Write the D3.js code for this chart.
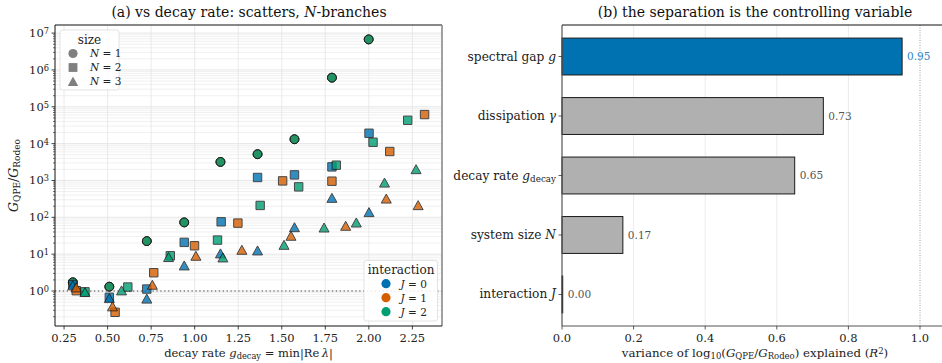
<!DOCTYPE html>
<html>
<head>
<meta charset="utf-8">
<script src="https://cdn.jsdelivr.net/npm/d3@7"></script>
<style>
  html, body { margin: 0; padding: 0; background: #fff; }
  svg text { font-family: "DejaVu Serif", "Liberation Serif", serif; }
</style>
</head>
<body>
<svg id="fig" width="942" height="363"></svg>
<script>
// ---------- panel (a): G_QPE / G_Rodeo against decay rate ----------
const jLevels = [0, 1, 2];
const jColors = ["#0072B2", "#D55E00", "#009E73"];

// N = 1 (no interaction, identical for every J)
const n1Decay = [0.30, 0.51, 0.725, 0.94, 1.148, 1.361, 1.573, 1.788, 1.999];
const n1Ratio = [1.72, 1.31, 22.6, 72.8, 3190, 5160, 13150, 618000, 6.75e6];

// N = 2, per J
const n2DecayJ0 = [0.30, 0.51, 0.725, 0.94, 1.152, 1.361, 1.573, 1.788, 2.001];
const n2RatioJ0 = [1.50, 0.675, 1.13, 20.9, 75.5, 1206, 1418, 2340, 19130];
const n2DecayJ1 = [0.32, 0.543, 0.765, 0.999, 1.248, 1.505, 1.788, 2.12, 2.32];
const n2RatioJ1 = [1.02, 0.264, 3.13, 16.9, 69.6, 975, 957, 6110, 61500];
const n2DecayJ2 = [0.37, 0.616, 0.86, 1.131, 1.376, 1.597, 1.813, 2.024, 2.223];
const n2RatioJ2 = [0.95, 1.28, 9.05, 24.1, 210, 671, 2600, 10900, 43000];

// N = 3, per J
const n3DecayJ0 = [0.30, 0.51, 0.725, 0.94, 1.148, 1.361, 1.573, 1.788, 2.001];
const n3RatioJ0 = [1.40, 0.63, 0.61, 4.85, 10.3, 12.4, 53, 331, 136];
const n3DecayJ1 = [0.32, 0.528, 0.757, 1.007, 1.271, 1.553, 1.867, 2.10, 2.283];
const n3RatioJ1 = [1.23, 0.376, 1.45, 8.88, 12.9, 31, 57.8, 317, 210];
const n3DecayJ2 = [0.37, 0.58, 0.85, 1.162, 1.513, 1.743, 1.928, 2.09, 2.271];
const n3RatioJ2 = [0.92, 1.02, 8.2, 8.0, 17.6, 51.9, 71, 861, 1990];

const xTicksA = [0.25, 0.50, 0.75, 1.00, 1.25, 1.50, 1.75, 2.00, 2.25];
const yTicksA = [1, 10, 100, 1e3, 1e4, 1e5, 1e6, 1e7];

// ---------- panel (b): variance explained ----------
const factorLabels = [
  [{t: "spectral gap "}, {t: "g", i: true}],
  [{t: "dissipation "}, {t: "γ", i: true}],
  [{t: "decay rate "}, {t: "g", i: true}, {t: "decay", sub: true}],
  [{t: "system size "}, {t: "N", i: true}],
  [{t: "interaction "}, {t: "J", i: true}]
];
const r2Values = [0.95, 0.73, 0.65, 0.17, 0.002];
const xTicksB = [0.0, 0.2, 0.4, 0.6, 0.8, 1.0];

// ---------- helpers ----------
const svg = d3.select("#fig");

function rich(sel, parts, size) {
  parts.forEach(p => {
    const ts = sel.append("tspan").text(p.t);
    if (p.i) ts.attr("font-style", "italic");
    if (p.sub) ts.attr("baseline-shift", "-22%").attr("font-size", size * 0.72);
    if (p.sup) ts.attr("baseline-shift", "40%").attr("font-size", size * 0.72);
  });
  return sel;
}

function markerPath(shape) {
  if (shape === "circle") return "M4.4,0A4.4,4.4 0 1,1 -4.4,0A4.4,4.4 0 1,1 4.4,0Z";
  if (shape === "square") return "M-4.2,-4.2H4.2V4.2H-4.2Z";
  return "M0,-4.8L5,4.2L-5,4.2Z";
}

// ================= panel (a) =================
const A = {l: 55, r: 442, t: 25, b: 326};
const xA = d3.scaleLinear().domain([0.198, 2.42]).range([A.l, A.r]);
const yA = d3.scaleLog().domain([Math.pow(10, -0.95), Math.pow(10, 7.22)]).range([A.b, A.t]);

const gA = svg.append("g");

// grid: minor then major horizontal, major vertical
const minorY = [];
for (let e = -1; e <= 7; e++) for (let m = 2; m <= 9; m++) {
  const v = m * Math.pow(10, e);
  if (v >= yA.domain()[0] && v <= yA.domain()[1]) minorY.push(v);
}
gA.append("g").selectAll("line").data(minorY).join("line")
  .attr("x1", A.l).attr("x2", A.r)
  .attr("y1", d => yA(d)).attr("y2", d => yA(d))
  .attr("stroke", "#ececec").attr("stroke-width", 0.8);
gA.append("g").selectAll("line").data(yTicksA).join("line")
  .attr("x1", A.l).attr("x2", A.r)
  .attr("y1", d => yA(d)).attr("y2", d => yA(d))
  .attr("stroke", "#e0e0e0").attr("stroke-width", 0.8);
gA.append("g").selectAll("line").data(xTicksA).join("line")
  .attr("x1", d => xA(d)).attr("x2", d => xA(d))
  .attr("y1", A.t).attr("y2", A.b)
  .attr("stroke", "#e4e4e4").attr("stroke-width", 0.8);

// reference line at ratio = 1
gA.append("line")
  .attr("x1", A.l).attr("x2", A.r).attr("y1", yA(1)).attr("y2", yA(1))
  .attr("stroke", "#808080").attr("stroke-width", 1.3)
  .attr("stroke-dasharray", "1.3,2.6");

// scatter series
const series = [];
jLevels.forEach((j, k) => series.push({shape: "circle", j: k, xs: n1Decay, ys: n1Ratio}));
series.push({shape: "square", j: 0, xs: n2DecayJ0, ys: n2RatioJ0});
series.push({shape: "square", j: 1, xs: n2DecayJ1, ys: n2RatioJ1});
series.push({shape: "square", j: 2, xs: n2DecayJ2, ys: n2RatioJ2});
series.push({shape: "triangle", j: 0, xs: n3DecayJ0, ys: n3RatioJ0});
series.push({shape: "triangle", j: 1, xs: n3DecayJ1, ys: n3RatioJ1});
series.push({shape: "triangle", j: 2, xs: n3DecayJ2, ys: n3RatioJ2});

const gPts = gA.append("g");
series.forEach(s => {
  const pts = s.xs.map((x, i) => ({x, y: s.ys[i]}));
  gPts.append("g").selectAll("path").data(pts).join("path")
    .attr("d", markerPath(s.shape))
    .attr("transform", d => `translate(${xA(d.x)},${yA(d.y)})`)
    .attr("fill", jColors[s.j])
    .attr("stroke", "#1a1a1a").attr("stroke-width", 1)
    .attr("opacity", 0.8);
});

// spines
gA.append("line").attr("x1", A.l).attr("x2", A.r).attr("y1", A.t).attr("y2", A.t).attr("stroke", "#111").attr("stroke-width", 1);
gA.append("line").attr("x1", A.r).attr("x2", A.r).attr("y1", A.t).attr("y2", A.b).attr("stroke", "#8a8a8a").attr("stroke-width", 1.6);
gA.append("line").attr("x1", A.l).attr("x2", A.l).attr("y1", A.t).attr("y2", A.b).attr("stroke", "#111").attr("stroke-width", 1);
gA.append("line").attr("x1", A.l).attr("x2", A.r).attr("y1", A.b).attr("y2", A.b).attr("stroke", "#111").attr("stroke-width", 1);

// x axis ticks
gA.append("g").selectAll("line").data(xTicksA).join("line")
  .attr("x1", d => xA(d)).attr("x2", d => xA(d)).attr("y1", A.b).attr("y2", A.b + 3.5)
  .attr("stroke", "#111").attr("stroke-width", 0.8);
gA.append("g").selectAll("text").data(xTicksA).join("text")
  .attr("x", d => xA(d)).attr("y", A.b + 15.5)
  .attr("text-anchor", "middle").attr("font-size", 11.5).attr("fill", "#222")
  .text(d => d3.format(".2f")(d));

// y axis ticks (major + minor)
gA.append("g").selectAll("line").data(minorY).join("line")
  .attr("x1", A.l - 2).attr("x2", A.l).attr("y1", d => yA(d)).attr("y2", d => yA(d))
  .attr("stroke", "#111").attr("stroke-width", 0.6);
gA.append("g").selectAll("line").data(yTicksA).join("line")
  .attr("x1", A.l - 3.5).attr("x2", A.l).attr("y1", d => yA(d)).attr("y2", d => yA(d))
  .attr("stroke", "#111").attr("stroke-width", 0.8);
yTicksA.forEach(v => {
  const t = gA.append("text").attr("x", A.l - 6).attr("y", yA(v) + 4)
    .attr("text-anchor", "end").attr("font-size", 11.5).attr("fill", "#222");
  rich(t, [{t: "10"}, {t: String(Math.round(Math.log10(v))), sup: true}], 11.5);
});

// axis labels + title
rich(gA.append("text").attr("x", (A.l + A.r) / 2).attr("y", 357)
  .attr("text-anchor", "middle").attr("font-size", 11.5).attr("fill", "#222"),
  [{t: "decay rate "}, {t: "g", i: true}, {t: "decay", sub: true}, {t: " = min|Re\u2009"}, {t: "λ", i: true}, {t: "|"}], 11.5);
rich(gA.append("text").attr("transform", `translate(18,${(A.t + A.b) / 2}) rotate(-90)`)
  .attr("text-anchor", "middle").attr("font-size", 12.5).attr("fill", "#222"),
  [{t: "G", i: true}, {t: "QPE", sub: true}, {t: "/"}, {t: "G", i: true}, {t: "Rodeo", sub: true}], 12.5);
rich(gA.append("text").attr("x", 249).attr("y", 17)
  .attr("text-anchor", "middle").attr("font-size", 14).attr("fill", "#111"),
  [{t: "(a) vs decay rate: scatters, "}, {t: "N", i: true}, {t: "-branches"}], 14);

// legend: size
const sizeShapes = ["circle", "square", "triangle"];
const lg1 = gA.append("g");
lg1.append("rect").attr("x", 60).attr("y", 30).attr("width", 59).attr("height", 60).attr("rx", 2.5)
  .attr("fill", "#fff").attr("fill-opacity", 0.85).attr("stroke", "#dcdcdc").attr("stroke-width", 0.8);
lg1.append("text").attr("x", 89.5).attr("y", 44).attr("text-anchor", "middle").attr("font-size", 12).attr("fill", "#222").text("size");
sizeShapes.forEach((s, i) => {
  const y = 53.5 + i * 14;
  lg1.append("path").attr("d", markerPath(s)).attr("transform", `translate(73,${y}) scale(1.05)`)
    .attr("fill", "#808080");
  rich(lg1.append("text").attr("x", 90).attr("y", y + 3.8).attr("font-size", 10.5).attr("fill", "#222"),
    [{t: "N", i: true}, {t: " = " + (i + 1)}], 10.5);
});

// legend: interaction
const lg2 = gA.append("g");
lg2.append("rect").attr("x", 364).attr("y", 260.5).attr("width", 73.5).attr("height", 60.5).attr("rx", 2.5)
  .attr("fill", "#fff").attr("fill-opacity", 0.85).attr("stroke", "#dcdcdc").attr("stroke-width", 0.8);
lg2.append("text").attr("x", 401).attr("y", 273.5).attr("text-anchor", "middle").attr("font-size", 12).attr("fill", "#222").text("interaction");
jLevels.forEach((j, i) => {
  const y = 283.7 + i * 14;
  lg2.append("circle").attr("cx", 386).attr("cy", y).attr("r", 4.6).attr("fill", jColors[i]);
  rich(lg2.append("text").attr("x", 400.5).attr("y", y + 3.8).attr("font-size", 10.5).attr("fill", "#222"),
    [{t: "J", i: true}, {t: " = " + j}], 10.5);
});

// ================= panel (b) =================
const B = {l: 562, r: 946, t: 25, b: 326};
const xB = d3.scaleLinear().domain([0, 1]).range([562, 920]);
const yB = d3.scaleLinear().domain([-0.53, 4.53]).range([B.t, B.b]);
const barH = 0.62;
const gB = svg.append("g");

gB.append("g").selectAll("line").data([0.2, 0.4, 0.6, 0.8]).join("line")
  .attr("x1", d => xB(d)).attr("x2", d => xB(d)).attr("y1", B.t).attr("y2", B.b)
  .attr("stroke", "#e6e6e6").attr("stroke-width", 0.8);
gB.append("line").attr("x1", xB(1)).attr("x2", xB(1)).attr("y1", B.t).attr("y2", B.b)
  .attr("stroke", "#a0a0a0").attr("stroke-width", 1).attr("stroke-dasharray", "1,1.5");

const bars = r2Values.map((v, i) => ({v, i}));
gB.append("g").selectAll("rect").data(bars).join("rect")
  .attr("x", xB(0))
  .attr("y", d => yB(d.i - barH / 2))
  .attr("width", d => xB(d.v) - xB(0))
  .attr("height", yB(barH) - yB(0))
  .attr("fill", d => d.i === 0 ? "#0072B2" : "#b0b0b0")
  .attr("stroke", "#1a1a1a").attr("stroke-width", 1);

gB.append("g").selectAll("text").data(bars).join("text")
  .attr("x", d => xB(d.v) + 5).attr("y", d => yB(d.i) + 3.8)
  .attr("font-size", 10.5).attr("fill", d => d.i === 0 ? "#2a86c8" : "#555")
  .text(d => d3.format(".2f")(d.v));

// spines
gB.append("line").attr("x1", B.l).attr("x2", B.r).attr("y1", B.t).attr("y2", B.t).attr("stroke", "#111").attr("stroke-width", 1);
gB.append("line").attr("x1", B.l).attr("x2", B.l).attr("y1", B.t).attr("y2", B.b).attr("stroke", "#555").attr("stroke-width", 1.2);
gB.append("line").attr("x1", B.l).attr("x2", B.r).attr("y1", B.b).attr("y2", B.b).attr("stroke", "#555").attr("stroke-width", 1.2);

// ticks
gB.append("g").selectAll("line").data(xTicksB).join("line")
  .attr("x1", d => xB(d)).attr("x2", d => xB(d)).attr("y1", B.b).attr("y2", B.b + 3.5)
  .attr("stroke", "#333").attr("stroke-width", 0.8);
gB.append("g").selectAll("text").data(xTicksB).join("text")
  .attr("x", d => xB(d)).attr("y", B.b + 15.5)
  .attr("text-anchor", "middle").attr("font-size", 11.5).attr("fill", "#222")
  .text(d => d3.format(".1f")(d));
gB.append("g").selectAll("line").data(bars).join("line")
  .attr("x1", B.l - 3.5).attr("x2", B.l).attr("y1", d => yB(d.i)).attr("y2", d => yB(d.i))
  .attr("stroke", "#333").attr("stroke-width", 0.8);
factorLabels.forEach((parts, i) => {
  rich(gB.append("text").attr("x", B.l - 6).attr("y", yB(i) + 4)
    .attr("text-anchor", "end").attr("font-size", 12.2).attr("fill", "#222"), parts, 12.2);
});

rich(gB.append("text").attr("x", 755).attr("y", 357)
  .attr("text-anchor", "middle").attr("font-size", 11.8).attr("fill", "#222"),
  [{t: "variance of log"}, {t: "10", sub: true}, {t: "("}, {t: "G", i: true}, {t: "QPE", sub: true},
   {t: "/"}, {t: "G", i: true}, {t: "Rodeo", sub: true}, {t: ") explained ("}, {t: "R", i: true}, {t: "2", sup: true}, {t: ")"}], 11.8);
gB.append("text").attr("x", 755).attr("y", 17)
  .attr("text-anchor", "middle").attr("font-size", 14).attr("fill", "#111")
  .text("(b) the separation is the controlling variable");
</script>
</body>
</html>
